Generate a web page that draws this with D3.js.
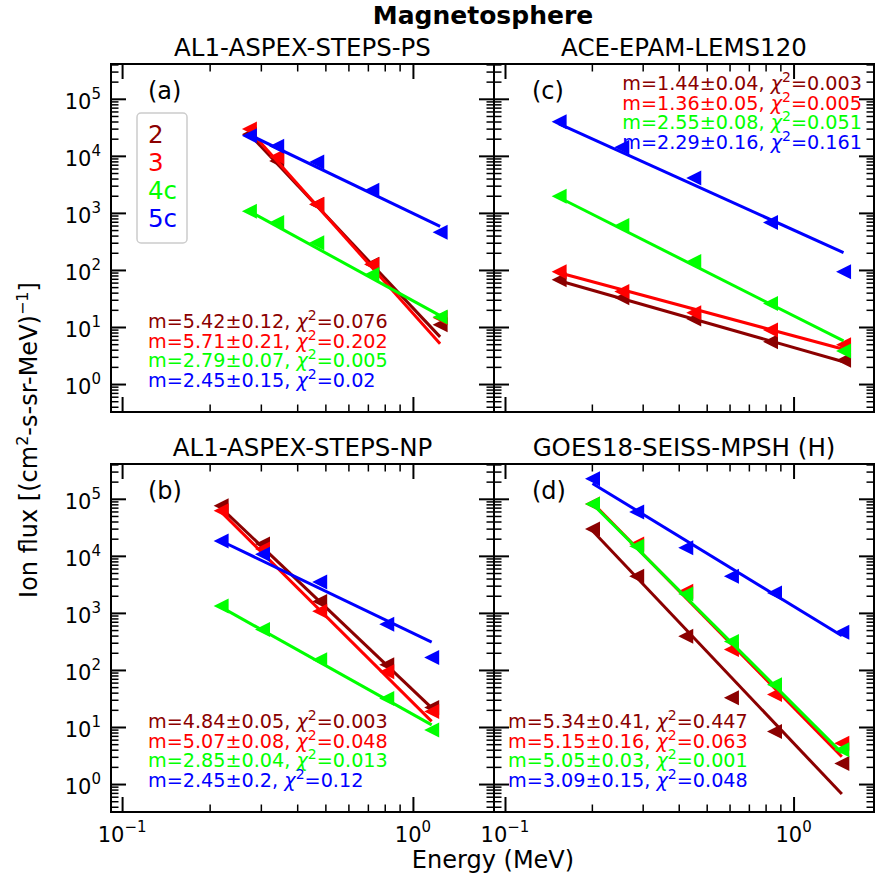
<!DOCTYPE html>
<html>
<head>
<meta charset="utf-8">
<script src="https://cdn.jsdelivr.net/npm/d3@7"></script>
<style>
  body { margin: 0; background: #fff; }
  svg { font-family: "DejaVu Sans", sans-serif; }
</style>
</head>
<body>
<svg id="chart" width="875" height="882"></svg>
<script>
// ---- values ----
const seriesNames = ["2", "3", "4c", "5c"];
const seriesColors = ["#8b0000", "#ff0000", "#00ff00", "#0000ff"];

const titles = ["AL1-ASPEX-STEPS-PS", "AL1-ASPEX-STEPS-NP", "ACE-EPAM-LEMS120", "GOES18-SEISS-MPSH (H)"];
const panelTags = ["(a)", "(b)", "(c)", "(d)"];

// energies in MeV
const energyPS = [0.274, 0.340, 0.467, 0.722, 1.24];
const energyNP = [0.219, 0.304, 0.478, 0.813, 1.16];
const energyACE = [0.154, 0.254, 0.451, 0.832, 1.49];
const energyGOES = [0.201, 0.286, 0.423, 0.609, 0.859, 1.47];

// ion flux, one row per series (2, 3, 4c, 5c)
const fluxPS = [
  [24000, 8100, 1410, 126, 11],
  [29500, 9600, 1420, 125, 14.5],
  [1070, 680, 300, 83, 15],
  [22400, 14800, 7800, 2500, 460]
];
const fluxNP = [
  [75900, 16200, 1580, 123, 21.9],
  [61700, 13200, 1070, 93, 18.6],
  [1320, 513, 151, 31.6, 8.9],
  [18200, 10700, 3470, 630, 166]
];
const fluxACE = [
  [67.6, 32.4, 13.8, 5.5, 2.6],
  [93, 41.7, 17.8, 8.9, 4.9],
  [1950, 600, 141, 25.7, 3.8],
  [39800, 14100, 4070, 676, 93]
];
const fluxGOES = [
  [29500, 4370, 389, 32.4, 8.3, 2.3],
  [81300, 16200, 2400, 229, 37, 5.2],
  [81300, 14800, 2140, 316, 55, 4.0],
  [224000, 58900, 13800, 4370, 2240, 457]
];

// power-law fits: slope m, its error, chi^2, fitted flux at the first energy
const slopePS = [5.42, 5.71, 2.79, 2.45];
const slopeErrPS = [0.12, 0.21, 0.07, 0.15];
const chi2PS = [0.076, 0.202, 0.005, 0.02];
const fitStartPS = [24000, 28200, 1070, 23400];

const slopeNP = [4.84, 5.07, 2.85, 2.45];
const slopeErrNP = [0.05, 0.08, 0.04, 0.2];
const chi2NP = [0.003, 0.048, 0.013, 0.12];
const fitStartNP = [69200, 58900, 1260, 18200];

const slopeACE = [1.44, 1.36, 2.55, 2.29];
const slopeErrACE = [0.04, 0.05, 0.08, 0.16];
const chi2ACE = [0.003, 0.005, 0.051, 0.161];
const fitStartACE = [64.6, 89.1, 1860, 36300];

const slopeGOES = [5.34, 5.15, 5.05, 3.09];
const slopeErrGOES = [0.41, 0.16, 0.03, 0.15];
const chi2GOES = [0.447, 0.063, 0.001, 0.048];
const fitStartGOES = [27500, 85100, 81300, 186000];

const xTickValues = [0.1, 1];
const xTickExps = ["\u22121", "0"];
const yTickValues = [1, 10, 100, 1000, 10000, 100000];
const yTickExps = ["0", "1", "2", "3", "4", "5"];

// ---- layout ----
const svg = d3.select("#chart");
const colX = [[111, 494], [494, 874]];
const rowY = [[64, 412], [464, 812]];
const xDomain = [0.0916, 1.9];
const yDomain = [Math.pow(10, -0.49), Math.pow(10, 5.61)];

const panels = [
  { col: 0, row: 0, energy: energyPS, flux: fluxPS, slope: slopePS, err: slopeErrPS, chi2: chi2PS, fit0: fitStartPS,
    note: { anchor: "start", dx: 37, dy: 264 }, legend: true },
  { col: 0, row: 1, energy: energyNP, flux: fluxNP, slope: slopeNP, err: slopeErrNP, chi2: chi2NP, fit0: fitStartNP,
    note: { anchor: "start", dx: 37, dy: 264 } },
  { col: 1, row: 0, energy: energyACE, flux: fluxACE, slope: slopeACE, err: slopeErrACE, chi2: chi2ACE, fit0: fitStartACE,
    note: { anchor: "end", dx: -12, dy: 26 } },
  { col: 1, row: 1, energy: energyGOES, flux: fluxGOES, slope: slopeGOES, err: slopeErrGOES, chi2: chi2GOES, fit0: fitStartGOES,
    note: { anchor: "start", dx: 14, dy: 264 } }
];

function minorTicks(domain) {
  const out = [];
  const lo = Math.floor(Math.log10(domain[0])), hi = Math.ceil(Math.log10(domain[1]));
  for (let k = lo; k <= hi; k++) {
    for (let d = 2; d <= 9; d++) {
      const v = d * Math.pow(10, k);
      if (v >= domain[0] && v <= domain[1]) out.push(v);
    }
  }
  return out;
}

function powLabel(text, exp) {
  text.append("tspan").text("10");
  text.append("tspan").attr("dy", -10).attr("font-size", 15).text(exp);
}

// left-pointing triangle centred on its bounding box
const tri = 15;
const triPath = `M${-tri / 2},0L${tri / 2},${-tri / 2}L${tri / 2},${tri / 2}Z`;

panels.forEach((p, pi) => {
  const [x0, x1] = colX[p.col];
  const [y0, y1] = rowY[p.row];
  const x = d3.scaleLog().domain(xDomain).range([x0, x1]);
  const y = d3.scaleLog().domain(yDomain).range([y1, y0]);
  const g = svg.append("g");

  // ticks on all sides, pointing inwards
  const axes = [
    [d3.axisLeft(y), `translate(${x0},0)`, yTickValues, minorTicks(yDomain)],
    [d3.axisRight(y), `translate(${x1},0)`, yTickValues, minorTicks(yDomain)],
    [d3.axisBottom(x), `translate(0,${y1})`, xTickValues, minorTicks(xDomain)],
    [d3.axisTop(x), `translate(0,${y0})`, xTickValues, minorTicks(xDomain)]
  ];
  axes.forEach(([ax, tr, major, minor]) => {
    g.append("g").attr("transform", tr)
      .call(ax.tickValues(minor).tickSize(-7.5).tickSizeOuter(0).tickFormat(""))
      .call(s => s.select(".domain").remove())
      .selectAll("line").attr("stroke-width", 1.5);
    g.append("g").attr("transform", tr)
      .call(ax.tickValues(major).tickSize(-15).tickSizeOuter(0).tickFormat(""))
      .call(s => s.select(".domain").remove())
      .selectAll("line").attr("stroke-width", 2);
  });

  g.append("rect")
    .attr("x", x0).attr("y", y0)
    .attr("width", x1 - x0).attr("height", y1 - y0)
    .attr("fill", "none").attr("stroke", "#000").attr("stroke-width", 2);

  // tick labels
  if (p.col === 0) {
    yTickValues.forEach((v, i) => {
      const t = g.append("text").attr("x", x0 - 10).attr("y", y(v) + 10)
        .attr("text-anchor", "end").attr("font-size", 21);
      powLabel(t, yTickExps[i]);
    });
  }
  if (p.row === 1) {
    xTickValues.forEach((v, i) => {
      const t = g.append("text").attr("x", x(v)).attr("y", y1 + 30)
        .attr("text-anchor", "middle").attr("font-size", 21);
      powLabel(t, xTickExps[i]);
    });
  }

  // title and panel tag
  g.append("text").attr("x", (x0 + x1) / 2).attr("y", y0 - 8)
    .attr("text-anchor", "middle").attr("font-size", 24.5).text(titles[pi]);
  g.append("text").attr("x", p.col === 0 ? x0 + 37 : x0 + 38).attr("y", y0 + 35)
    .attr("font-size", 24).text(panelTags[pi]);

  // data and fits
  const line = d3.line().x(d => x(d[0])).y(d => y(d[1]));
  p.flux.forEach((vals, si) => {
    const col = seriesColors[si];
    g.append("g").selectAll("path")
      .data(vals.map((v, k) => [p.energy[k], v]))
      .join("path")
      .attr("d", triPath)
      .attr("transform", d => `translate(${x(d[0])},${y(d[1])})`)
      .attr("fill", col);

    const e0 = p.energy[0], e1 = p.energy[p.energy.length - 1];
    const fit = [e0, e1].map(e => [e, p.fit0[si] * Math.pow(e / e0, -p.slope[si])]);
    g.append("path").datum(fit)
      .attr("d", line)
      .attr("fill", "none").attr("stroke", col).attr("stroke-width", 3);
  });

  // fit annotations
  const nx = p.note.anchor === "end" ? x1 + p.note.dx : x0 + p.note.dx;
  p.slope.forEach((m, i) => {
    const t = g.append("text").attr("x", nx).attr("y", y0 + p.note.dy + i * 19.6)
      .attr("text-anchor", p.note.anchor).attr("fill", seriesColors[i]).attr("font-size", 19.2);
    t.append("tspan").text(`m=${m}\u00b1${p.err[i]}, `);
    t.append("tspan").attr("font-style", "italic").text("\u03c7");
    t.append("tspan").attr("dy", -8).attr("font-size", 14).text("2");
    t.append("tspan").attr("dy", 8).text(`=${p.chi2[i]}`);
  });

  // legend (panel a only)
  if (p.legend) {
    const lg = g.append("g").attr("transform", `translate(${x0 + 26},${y0 + 49})`);
    lg.append("rect").attr("width", 50).attr("height", 130).attr("rx", 4)
      .attr("fill", "#fff").attr("fill-opacity", 0.8)
      .attr("stroke", "#cccccc").attr("stroke-width", 1.5);
    seriesNames.forEach((n, i) => {
      lg.append("text").attr("x", 11).attr("y", 30 + i * 28)
        .attr("font-size", 24.5).attr("fill", seriesColors[i]).text(n);
    });
  }
});

// figure-level labels
svg.append("text").attr("x", 483).attr("y", 24).attr("text-anchor", "middle")
  .attr("font-size", 25).attr("font-weight", "bold").text("Magnetosphere");

svg.append("text").attr("x", 493).attr("y", 868).attr("text-anchor", "middle")
  .attr("font-size", 24).text("Energy (MeV)");

const yl = svg.append("text").attr("transform", "translate(37,440) rotate(-90)")
  .attr("text-anchor", "middle").attr("font-size", 24);
yl.append("tspan").text("Ion flux [(cm");
yl.append("tspan").attr("dy", -9).attr("font-size", 16).text("2");
yl.append("tspan").attr("dy", 9).text("-s-sr-MeV)");
yl.append("tspan").attr("dy", -9).attr("font-size", 16).text("\u22121");
yl.append("tspan").attr("dy", 9).text("]");
</script>
</body>
</html>
